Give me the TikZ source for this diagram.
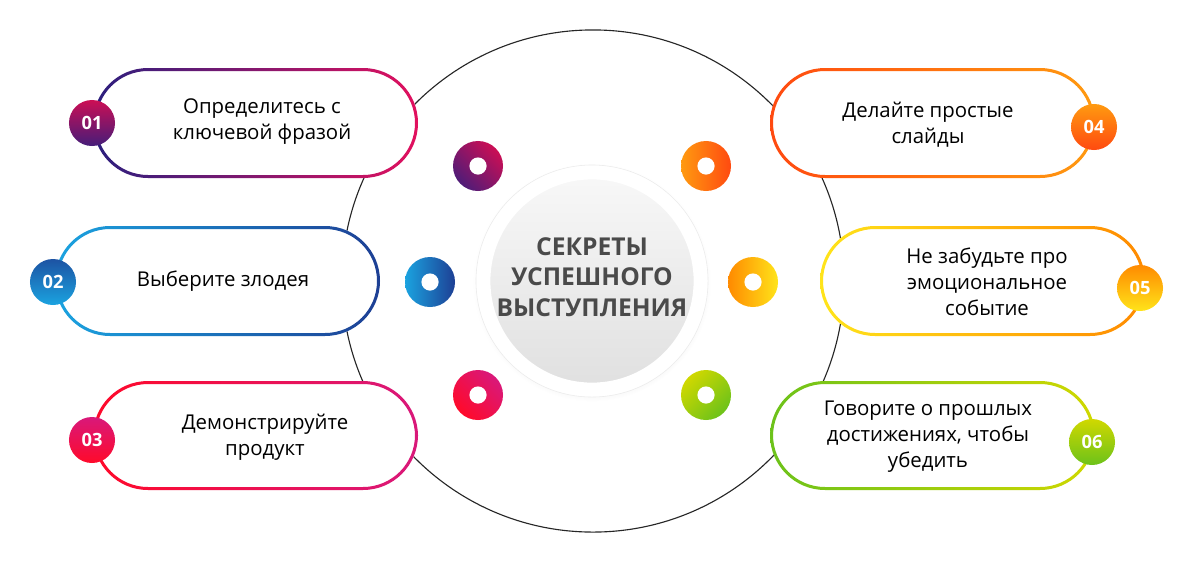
\documentclass[tikz,border=0pt]{standalone}
\usepackage{fontspec}
\setmainfont{Open Sans}
\usepackage{xcolor}
\usetikzlibrary{positioning,shadows}

\definecolor{oneA}{HTML}{2A1F7E}
\definecolor{oneB}{HTML}{E2105E}
\definecolor{twoA}{HTML}{1BA3E0}
\definecolor{twoB}{HTML}{1D3F94}
\definecolor{threeA}{HTML}{FF0A2A}
\definecolor{threeB}{HTML}{D9187A}
\definecolor{fourA}{HTML}{FF4A10}
\definecolor{fourB}{HTML}{FF9A10}
\definecolor{fiveA}{HTML}{FFE41A}
\definecolor{fiveB}{HTML}{FF8A00}
\definecolor{sixA}{HTML}{6CC21A}
\definecolor{sixB}{HTML}{D0D800}
\definecolor{titlegray}{HTML}{4A4A4A}

\begin{document}
\begin{tikzpicture}[x=0.025cm, y=-0.025cm,
  label/.style={align=center, text=black, font=\fontsize{14.5}{18.5}\selectfont},
  badge/.style={circle, minimum size=1.15cm, inner sep=0pt, text=white,
    font=\bfseries\fontsize{13}{13}\selectfont},
  donut/.style={circle, minimum size=1.25cm, inner sep=0pt},
  hole/.style={circle, fill=white, minimum size=0.43cm, inner sep=0pt},
  pillfill/.style={fill=white, rounded corners=1.375cm},
  pillring/.style={even odd rule, rounded corners=1.375cm}]
  \useasboundingbox (0,0) rectangle (1200,560);

  % big outline circle behind everything
  \draw[line width=0.8pt, black!85] (593,281) circle [radius=6.275cm];

  % centre disc
  \node[circle, fill=white, draw=black!8, minimum size=5.8cm,
    circular drop shadow={shadow xshift=0pt, shadow yshift=-1pt, opacity=0.15, shadow scale=1.025}] (rim) at (592,281) {};
  \node[circle, top color=black!3, bottom color=black!12, draw=white, line width=2pt,
    minimum size=5.15cm] (core) at (592,281) {};
  \node[align=center, text=titlegray, font=\bfseries\fontsize{17.5}{21.5}\selectfont] (title) at (592,277)
    {СЕКРЕТЫ\\УСПЕШНОГО\\ВЫСТУПЛЕНИЯ};

  % donuts round the centre
  \node[donut, left color=oneA!80!oneB, right color=oneB!90!black, shading angle=135] (d1) at (478,166) {};
  \node[hole] (h1) at (d1) {};
  \node[donut, left color=twoA, right color=twoB] (d2) at (430,282) {};
  \node[hole] (h2) at (d2) {};
  \node[donut, left color=threeA, right color=threeB, shading angle=135] (d3) at (478,395) {};
  \node[hole] (h3) at (d3) {};
  \node[donut, left color=fourB, right color=fourA] (d4) at (706,166) {};
  \node[hole] (h4) at (d4) {};
  \node[donut, left color=fiveB, right color=fiveA] (d5) at (753,282) {};
  \node[hole] (h5) at (d5) {};
  \node[donut, left color=sixB, right color=sixA, shading angle=45] (d6) at (706,395) {};
  \node[hole] (h6) at (d6) {};

  % 01
  \fill[pillfill] (93,68) rectangle (418,178);
  \shade[pillring, left color=oneA, right color=oneB] (93,68) rectangle (418,178)
    [rounded corners=1.3cm] (96,71) rectangle (415,175);
  \node[badge, top color=oneB!90!black, bottom color=oneA!85!oneB] (b1) at (92,123) {01};
  \node[label] (t1) at (262,122) {Определитесь с\\ключевой фразой};

  % 02
  \fill[pillfill] (55,226) rectangle (380,336);
  \shade[pillring, left color=twoA, right color=twoB] (55,226) rectangle (380,336)
    [rounded corners=1.3cm] (58,229) rectangle (377,333);
  \node[badge, top color=twoB!80!twoA, bottom color=twoA] (b2) at (53,282) {02};
  \node[label] (t2) at (223,281) {Выберите злодея};

  % 03
  \fill[pillfill] (93,381) rectangle (418,490);
  \shade[pillring, left color=threeA, right color=threeB] (93,381) rectangle (418,490)
    [rounded corners=1.3cm] (96,384) rectangle (415,487);
  \node[badge, top color=threeB, bottom color=threeA] (b3) at (92,440) {03};
  \node[label] (t3) at (265,437) {Демонстрируйте\\продукт};

  % 04
  \fill[pillfill] (770,68) rectangle (1095,178);
  \shade[pillring, left color=fourA, right color=fourB] (770,68) rectangle (1095,178)
    [rounded corners=1.3cm] (773,71) rectangle (1092,175);
  \node[badge, top color=fourB, bottom color=fourA] (b4) at (1094,127) {04};
  \node[label] (t4) at (928,125) {Делайте простые\\слайды};

  % 05
  \fill[pillfill] (820,226) rectangle (1145,336);
  \shade[pillring, left color=fiveA, right color=fiveB] (820,226) rectangle (1145,336)
    [rounded corners=1.3cm] (823,229) rectangle (1142,333);
  \node[badge, top color=fiveB, bottom color=fiveA] (b5) at (1140,288) {05};
  \node[label] (t5) at (987,282) {Не забудьте про\\эмоциональное\\событие};

  % 06
  \fill[pillfill] (770,381) rectangle (1095,490);
  \shade[pillring, left color=sixA, right color=sixB] (770,381) rectangle (1095,490)
    [rounded corners=1.3cm] (773,384) rectangle (1092,487);
  \node[badge, top color=sixB, bottom color=sixA] (b6) at (1092,442) {06};
  \node[label] (t6) at (928,437) {Говорите о прошлых\\достижениях, чтобы\\убедить};
\end{tikzpicture}
\end{document}
